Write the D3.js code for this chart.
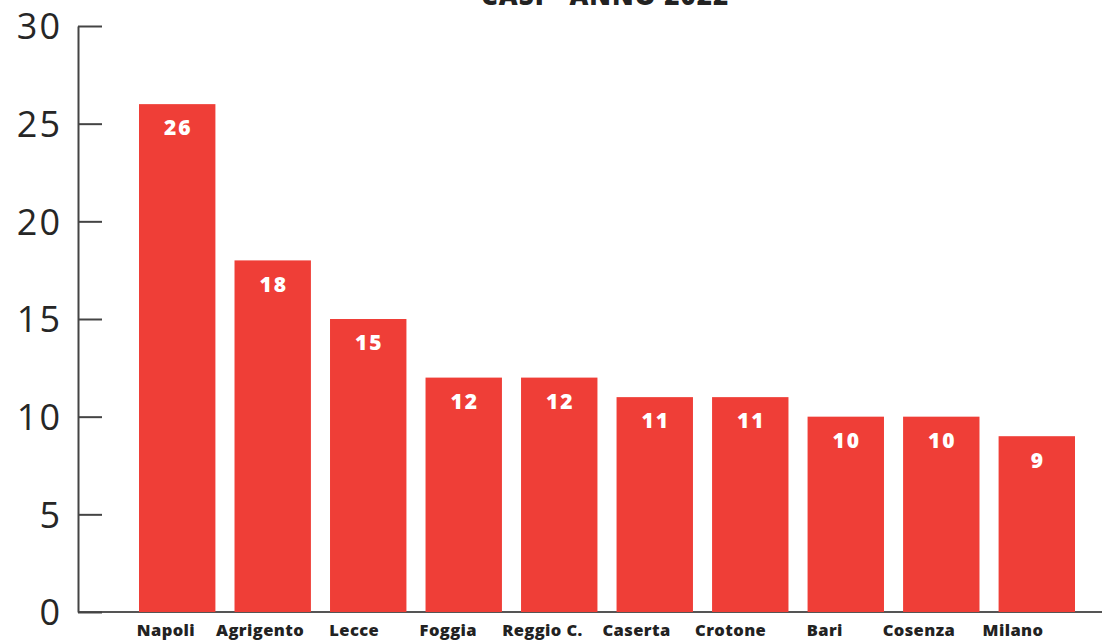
<!DOCTYPE html>
<html>
  <head>
    <meta charset="utf-8">
    <title>Casi - Anno 2022</title>
  </head>
  <style>
    body {
      margin: 0;
      background-color: #fff;
      font-family: "Open Sans", "DejaVu Sans", sans-serif;
    }
    .axis path, .axis line {
      stroke: #444;
      stroke-width: 2
    }
    .axis text {
      fill: #262626;
      font-size: 36px;
      font-weight: 400;
      letter-spacing: 2px;
      font-family: "Open Sans", sans-serif
    }
    .cat {
      fill: #222;
      font-size: 16.5px;
      font-weight: 800;
      letter-spacing: 0.4px
    }
    .val {
      fill: #fff;
      font-size: 21px;
      font-weight: 800;
      letter-spacing: 2px
    }
  </style>
  <script src="https://d3js.org/d3.v7.min.js"></script>
  <body>
    <script>
    // dati
    const cities = ["Napoli", "Agrigento", "Lecce", "Foggia", "Reggio C.", "Caserta", "Crotone", "Bari", "Cosenza", "Milano"]
    const cases  = [26, 18, 15, 12, 12, 11, 11, 10, 10, 9]
    const yTicks = [0, 5, 10, 15, 20, 25, 30]
    const title  = "CASI - ANNO 2022"

    var width = 1102
    var height = 641

    var svg = d3.select("body")
                .append("svg")
                .attr("width", width)
                .attr("height", height)

    // y scala
    let yScale = d3.scaleLinear()
      .domain([0, 30])
      .range([612, 26])

    // x scala (barre)
    let xScale = d3.scaleBand()
      .domain(cities)
      .range([139, 1075])
      .paddingInner(0.2)
      .paddingOuter(0)

    // le etichette seguono una griglia un po' più stretta
    let labelScale = d3.scalePoint()
      .domain(cities)
      .range([166, 1013])

    let axisX = 78

    // linea base
    svg.append("line")
      .attr("x1", axisX)
      .attr("x2", width)
      .attr("y1", yScale(0))
      .attr("y2", yScale(0))
      .attr("stroke", "#555")
      .attr("stroke-width", 2)

    // barre
    svg.append("g").selectAll("rect")
      .data(cases)
      .enter()
      .append("rect")
      .attr("x", function(d, i){ return xScale(cities[i]) })
      .attr("y", function(d){ return yScale(d) })
      .attr("width", xScale.bandwidth())
      .attr("height", function(d){ return yScale(0) - yScale(d) })
      .attr("fill", "#ef3e37")

    // asse y
    let yAxis = d3.axisLeft(yScale)
      .tickValues(yTicks)
      .tickSizeInner(-24)
      .tickSizeOuter(0)
      .tickPadding(16)

    svg.append("g")
      .attr("class", "axis")
      .attr("transform", "translate(" + axisX + ",0)")
      .call(yAxis)
      .call(g => g.selectAll("text").attr("dy", "0.36em"))

    // valori
    svg.append("g").selectAll("text")
      .data(cases)
      .enter()
      .append("text")
      .attr("class", "val")
      .attr("x", function(d, i){ return xScale(cities[i]) + xScale.bandwidth() / 2 + 1 })
      .attr("y", function(d){ return yScale(d) + 24 })
      .attr("dy", "0.35em")
      .attr("text-anchor", "middle")
      .text(function(d){ return d })

    // categorie
    svg.append("g").selectAll("text")
      .data(cities)
      .enter()
      .append("text")
      .attr("class", "cat")
      .attr("x", function(d){ return labelScale(d) })
      .attr("y", 636)
      .attr("text-anchor", "middle")
      .text(function(d){ return d })

    // titolo (tagliato in alto come nell'originale)
    svg.append("text")
      .attr("x", 605)
      .attr("y", 5)
      .attr("text-anchor", "middle")
      .attr("font-size", "26px")
      .attr("font-weight", 800)
      .attr("fill", "#222")
      .attr("letter-spacing", "1px")
      .text(title)
    </script>
  </body>
</html>
